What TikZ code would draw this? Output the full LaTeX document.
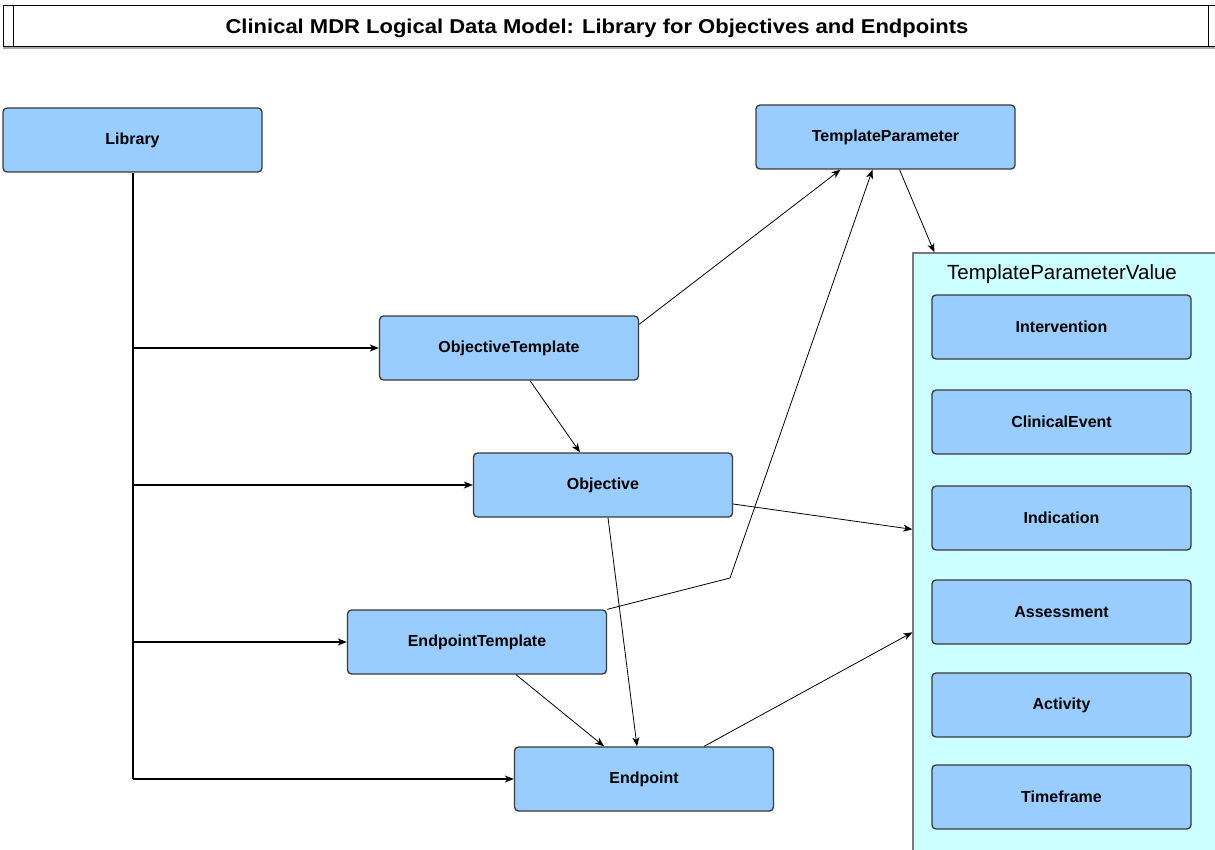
\documentclass[tikz,border=0pt]{standalone}
\usepackage{fontspec}
\setmainfont{Liberation Sans}
\usetikzlibrary{arrows.meta,calc}

\definecolor{boxblue}{HTML}{99CCFF}
\definecolor{boxline}{HTML}{3A3A3A}
\definecolor{groupfill}{HTML}{CCFFFF}
\definecolor{groupline}{HTML}{7A7A7A}
\definecolor{shadowgray}{HTML}{A8A8A8}

\tikzset{
  entity/.style={draw=boxline, line width=1.3pt, fill=boxblue, rounded corners=4pt,
    minimum width=259pt, minimum height=64pt, inner sep=0pt,
    font=\fontsize{16}{19}\selectfont\bfseries},
  group/.style={draw=groupline, line width=1.3pt, fill=groupfill,
    minimum width=312pt, minimum height=607pt, inner sep=0pt},
  arr/.style={draw=black, line width=0.8pt, -{Stealth[length=9pt,width=7pt,inset=2.5pt]}},
  trunk/.style={draw=black, line width=2pt},
  branch/.style={draw=black, line width=1.1pt, -{Stealth[length=9pt,width=7pt,inset=2.5pt]}},
}

\begin{document}
\begin{tikzpicture}[x=1pt,y=-1pt]
\useasboundingbox (0,0) rectangle (1215,850);

% title bar
\fill[shadowgray] (3,46) rectangle (1225,49);
\node[draw=black, line width=1pt, fill=white, minimum width=1222pt, minimum height=41pt,
      inner sep=0pt, anchor=north west] (titlebar) at (3,5) {};
\draw[black, line width=1pt] (13,5) -- (13,46) (1208,5) -- (1208,46);
\node[font=\fontsize{20}{23}\selectfont\bfseries] (titletext) at (597,28)
  {\scalebox{1.10}[1]{Clinical MDR Logical Data Model: Library for Objectives and Endpoints}};

% group of parameter value types
\node[group] (tpv) at (1069,556.5) {};
\node[font=\fontsize{20.5}{24}\selectfont] (tpvlabel) at (1062,274) {TemplateParameterValue};
\node[entity] (interv) at (1061.5,327) {Intervention};
\node[entity] (clin)   at (1061.5,422) {ClinicalEvent};
\node[entity] (indic)  at (1061.5,518) {Indication};
\node[entity] (assess) at (1061.5,612) {Assessment};
\node[entity] (activ)  at (1061.5,705) {Activity};
\node[entity] (timef)  at (1061.5,797) {Timeframe};

% main entities
\node[entity] (lib)  at (132.5,140) {Library};
\node[entity] (tp)   at (885.5,137) {TemplateParameter};
\node[entity] (ot)   at (509,348)   {ObjectiveTemplate};
\node[entity] (obj)  at (603,485)   {Objective};
\node[entity] (et)   at (477,642)   {EndpointTemplate};
\node[entity] (endp) at (644,779)   {Endpoint};

% library trunk and its branches
\coordinate (trunkend) at (lib.south |- endp.west);
\draw[trunk] (lib.south) -- (trunkend);
\draw[branch] (lib.south |- ot.west) -- (ot.west);
\draw[branch] (lib.south |- obj.west) -- (obj.west);
\draw[branch] (lib.south |- et.west) -- (et.west);
\draw[branch] (trunkend) -- (endp.west);

% template relations
\draw[arr] ([yshift=-9pt]ot.north east) -- ([xshift=-45pt]tp.south);
\coordinate (bend) at (730,578);
\draw[arr] (et.north east) -- (bend) -- ([xshift=-13pt]tp.south);
\draw[arr] ([xshift=14pt]tp.south) -- ([xshift=22pt]tpv.north west);
\draw[arr] ([xshift=21pt]ot.south) -- ([xshift=-23pt]obj.north);
\draw[arr] ([yshift=-19pt]obj.east) -- ([yshift=-277pt]tpv.north west);
\draw[arr] ([xshift=5pt]obj.south) -- ([xshift=-7pt]endp.north);
\draw[arr] ([xshift=39pt]et.south) -- ([xshift=-40pt]endp.north);
\draw[arr] ([xshift=60pt]endp.north) -- ([yshift=-380pt]tpv.north west);
\end{tikzpicture}
\end{document}
